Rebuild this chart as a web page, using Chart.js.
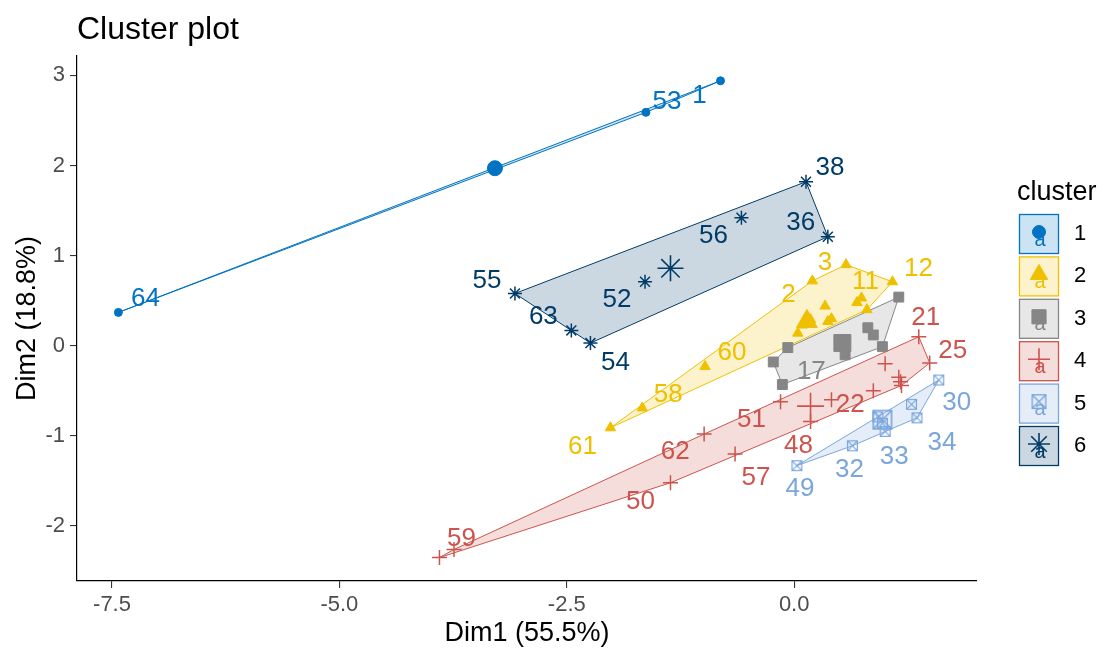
<!DOCTYPE html>
<html>
<head>
<meta charset="utf-8">
<title>Cluster plot</title>
<script src="https://cdn.jsdelivr.net/npm/chart.js@4.4.1/dist/chart.umd.min.js"></script>
<style>
  body { margin: 0; background: #fff; }
  canvas { display: block; }
</style>
</head>
<body>
<canvas id="cluster-chart" width="1107" height="650"></canvas>
<script>
// ---- data ----
const clusterIds = ['1', '2', '3', '4', '5', '6'];
const clusterColors = ['#0073C2', '#EFC000', '#868686', '#CD534C', '#7AA6DC', '#003C67'];

// observation numbers ('' = point drawn without a label)
const obsLabels = [
  ['1', '53', '64'],
  ['3', '12', '11', '2', '', '', '', '', '', '', '', '', '', '60', '58', '61'],
  ['', '', '17', '', '', '', '', ''],
  ['59', '', '50', '57', '62', '51', '48', '', '22', '', '', '', '', '21', '25'],
  ['49', '32', '33', '', '', '30', '34', ''],
  ['38', '56', '36', '52', '55', '63', '54']
];
const dim1 = [
  [-0.81, -1.63, -7.43],
  [0.57, 1.08, 0.74, 0.20, 0.34, 0.41, 0.69, 0.80, 0.14, 0.18, 0.09, 0.04, 0.37, -0.98, -1.67, -2.02],
  [1.15, 0.97, -0.13, -0.23, -0.07, 0.81, 0.87, 0.56],
  [-3.90, -3.74, -1.36, -0.65, -0.99, -0.15, 0.18, 0.41, 0.87, 1.00, 1.15, 1.17, 1.18, 1.37, 1.49],
  [0.03, 0.64, 1.00, 0.92, 0.97, 1.59, 1.35, 1.29],
  [0.13, -0.58, 0.37, -1.64, -3.07, -2.45, -2.24]
];
const dim2 = [
  [2.94, 2.59, 0.37],
  [0.90, 0.71, 0.53, 0.72, 0.44, 0.30, 0.48, 0.40, 0.32, 0.29, 0.23, 0.14, 0.27, -0.23, -0.69, -0.91],
  [0.54, -0.01, -0.43, -0.18, -0.02, 0.20, 0.12, -0.10],
  [-2.35, -2.26, -1.52, -1.20, -0.98, -0.62, -0.84, -0.60, -0.50, -0.20, -0.35, -0.40, -0.44, 0.10, -0.19],
  [-1.33, -1.11, -0.95, -0.79, -0.86, -0.38, -0.80, -0.65],
  [1.82, 1.42, 1.21, 0.71, 0.58, 0.17, 0.03]
];
const centerDim1 = [-3.29, 0.14, 0.53, 0.18, 0.97, -1.36];
const centerDim2 = [1.97, 0.27, 0.03, -0.67, -0.82, 0.86];

const xTicks = [-7.5, -5.0, -2.5, 0.0];
const yTicks = [-2, -1, 0, 1, 2, 3];

// ---- styling ----
const FONT = '"Liberation Sans", Arial, sans-serif';

// where each label sits relative to its point (px)
const labelNudge = {
  '1': [-21, 15], '53': [21, -11], '64': [27, -14],
  '3': [-21, -2], '12': [26, -13], '11': [4, -16], '2': [-24, 14], '60': [27, -14], '58': [26, -13], '61': [-28, 19],
  '17': [29, -13],
  '59': [22, -19], '50': [-30, 19], '57': [21, 24], '62': [-29, 18], '51': [-29, 18], '48': [-12, 24],
  '22': [-23, 14], '21': [7, -19], '25': [23, -12],
  '49': [3, 23], '32': [-3, 24], '33': [9, 25], '30': [18, 23], '34': [25, 25],
  '38': [24, -14], '56': [-28, 18], '36': [-27, -14], '52': [-28, 18], '55': [-28, -13], '63': [-28, -14], '54': [25, 20]
};

function rgba(hex, a) {
  const n = parseInt(hex.slice(1), 16);
  return 'rgba(' + (n >> 16) + ',' + ((n >> 8) & 255) + ',' + (n & 255) + ',' + a + ')';
}

// ggplot shape 7: square with a cross in it
function boxCross(size, color, lw) {
  const c = document.createElement('canvas');
  c.width = c.height = size + 2;
  const g = c.getContext('2d');
  const o = 1 + lw / 2, s = size - lw;
  g.strokeStyle = color;
  g.lineWidth = lw;
  g.strokeRect(o, o, s, s);
  g.beginPath();
  g.moveTo(o, o); g.lineTo(o + s, o + s);
  g.moveTo(o + s, o); g.lineTo(o, o + s);
  g.stroke();
  return c;
}

const pointStyles = ['circle', 'triangle', 'rect', 'cross', boxCross(11, clusterColors[4], 1.2), 'star'];
const centerStyles = ['circle', 'triangle', 'rect', 'cross', boxCross(20, clusterColors[4], 1.6), 'star'];
const legendStyles = ['circle', 'triangle', 'rect', 'cross', boxCross(15, clusterColors[4], 1.4), 'star'];
const pointRadius = [4, 6, 7, 7.5, 6, 7];
const centerRadius = [7.5, 12, 12, 13.5, 10, 13];
const legendRadius = [6.5, 10, 10, 11, 8, 11];

function hull(xs, ys) {
  const p = xs.map((x, i) => [x, ys[i]]).sort((a, b) => a[0] - b[0] || a[1] - b[1]);
  const cross = (o, a, b) => (a[0] - o[0]) * (b[1] - o[1]) - (a[1] - o[1]) * (b[0] - o[0]);
  const lower = [], upper = [];
  p.forEach(q => {
    while (lower.length >= 2 && cross(lower[lower.length - 2], lower[lower.length - 1], q) <= 0) lower.pop();
    lower.push(q);
  });
  p.slice().reverse().forEach(q => {
    while (upper.length >= 2 && cross(upper[upper.length - 2], upper[upper.length - 1], q) <= 0) upper.pop();
    upper.push(q);
  });
  const h = lower.slice(0, -1).concat(upper.slice(0, -1));
  h.push(h[0]);
  return h.map(q => ({x: q[0], y: q[1]}));
}

const datasets = [];
clusterIds.forEach((id, k) => {
  datasets.push({
    type: 'line',
    label: 'hull ' + id,
    data: hull(dim1[k], dim2[k]),
    borderColor: clusterColors[k],
    backgroundColor: rgba(clusterColors[k], 0.2),
    borderWidth: 1,
    pointRadius: 0,
    tension: 0,
    fill: 'shape',
    order: 3
  });
  datasets.push({
    label: id,
    data: dim1[k].map((x, i) => ({x: x, y: dim2[k][i]})),
    pointStyle: pointStyles[k],
    pointRadius: pointRadius[k],
    backgroundColor: clusterColors[k],
    borderColor: clusterColors[k],
    borderWidth: (k === 3 || k === 5) ? 1.5 : 1,
    order: 2
  });
  datasets.push({
    label: 'center ' + id,
    data: [{x: centerDim1[k], y: centerDim2[k]}],
    pointStyle: centerStyles[k],
    pointRadius: centerRadius[k],
    backgroundColor: clusterColors[k],
    borderColor: clusterColors[k],
    borderWidth: (k === 3 || k === 5) ? 1.6 : 1,
    order: 1
  });
});

const decor = {
  id: 'decor',
  afterDatasetsDraw(chart) {
    const ctx = chart.ctx, xs = chart.scales.x, ys = chart.scales.y;
    ctx.save();
    ctx.font = '26px ' + FONT;
    ctx.textAlign = 'center';
    ctx.textBaseline = 'middle';
    obsLabels.forEach((ids, k) => {
      ctx.fillStyle = clusterColors[k];
      ids.forEach((lab, i) => {
        if (!lab) return;
        const n = labelNudge[lab] || [0, -16];
        ctx.fillText(lab, xs.getPixelForValue(dim1[k][i]) + n[0], ys.getPixelForValue(dim2[k][i]) + n[1]);
      });
    });
    ctx.restore();
  },
  afterDraw(chart) {
    const ctx = chart.ctx;
    ctx.save();
    // title
    ctx.fillStyle = '#000';
    ctx.font = '32px ' + FONT;
    ctx.textAlign = 'left';
    ctx.textBaseline = 'alphabetic';
    ctx.fillText('Cluster plot', 77, 38.5);
    // legend
    ctx.font = '27px ' + FONT;
    ctx.fillText('cluster', 1017, 200);
    clusterIds.forEach((id, k) => {
      const cx = 1039, cy = 234 + 42.4 * k;
      ctx.fillStyle = rgba(clusterColors[k], 0.2);
      ctx.fillRect(cx - 19.5, cy - 19.5, 39, 39);
      ctx.strokeStyle = clusterColors[k];
      ctx.lineWidth = 1.3;
      ctx.strokeRect(cx - 19.5, cy - 19.5, 39, 39);
      ctx.fillStyle = clusterColors[k];
      ctx.lineWidth = (k === 3 || k === 5) ? 1.6 : 1;
      Chart.helpers.drawPoint(ctx, {pointStyle: legendStyles[k], radius: legendRadius[k], rotation: 0, borderWidth: ctx.lineWidth}, cx, cy - 2);
      ctx.font = '20px ' + FONT;
      ctx.textAlign = 'center';
      ctx.textBaseline = 'middle';
      ctx.fillText('a', cx + 1, cy + 6);
      ctx.fillStyle = '#000';
      ctx.font = '22px ' + FONT;
      ctx.textAlign = 'left';
      ctx.fillText(id, 1074, cy);
    });
    ctx.restore();
  }
};

new Chart(document.getElementById('cluster-chart'), {
  type: 'scatter',
  data: { datasets: datasets },
  options: {
    responsive: false,
    devicePixelRatio: 1,
    animation: false,
    layout: { padding: { top: 56, right: 130, bottom: 0, left: 0 } },
    plugins: {
      legend: { display: false },
      tooltip: { enabled: false }
    },
    scales: {
      x: {
        type: 'linear',
        min: -7.885,
        max: 2.01,
        afterBuildTicks: s => { s.ticks = xTicks.map(v => ({value: v})); },
        afterFit: s => { s.height = 69; },
        ticks: { callback: v => Number(v).toFixed(1), color: '#4D4D4D', font: { size: 22, family: FONT }, padding: 4, maxRotation: 0, autoSkip: false },
        grid: { drawOnChartArea: false, tickLength: 7, color: '#333333', lineWidth: 1.1 },
        border: { display: true, color: '#000000', width: 1.2 },
        title: { display: true, text: 'Dim1 (55.5%)', color: '#000', font: { size: 27, family: FONT }, padding: { top: 0, bottom: 0 } }
      },
      y: {
        type: 'linear',
        min: -2.61,
        max: 3.215,
        afterBuildTicks: s => { s.ticks = yTicks.map(v => ({value: v})); },
        afterFit: s => { s.width = 77; },
        ticks: { callback: v => String(v), color: '#4D4D4D', font: { size: 22, family: FONT }, padding: 5 },
        grid: { drawOnChartArea: false, tickLength: 7, color: '#333333', lineWidth: 1.1 },
        border: { display: true, color: '#000000', width: 1.2 },
        title: { display: true, text: 'Dim2 (18.8%)', color: '#000', font: { size: 27, family: FONT }, padding: { top: 11, bottom: 0 } }
      }
    }
  },
  plugins: [decor]
});
</script>
</body>
</html>
